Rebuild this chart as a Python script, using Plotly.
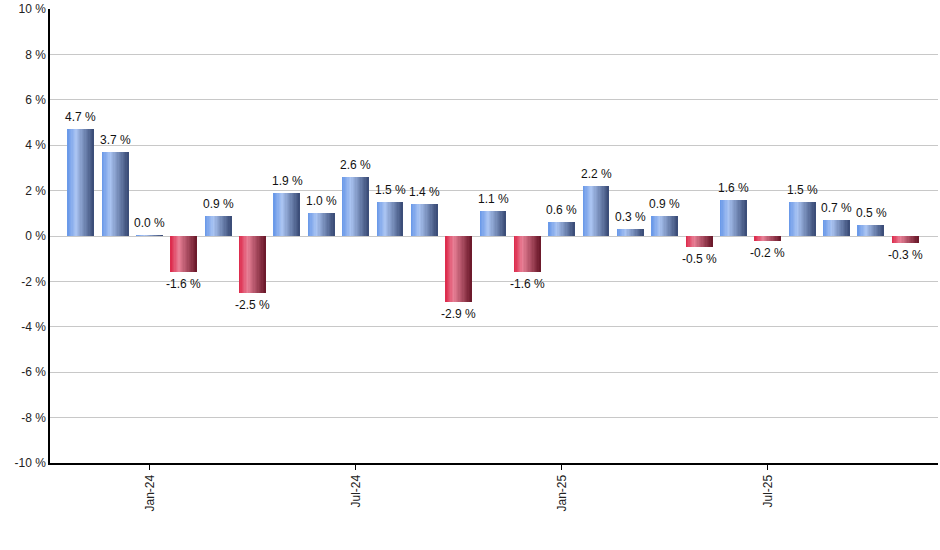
import plotly.graph_objects as go

# Monthly returns, Nov-23 .. Nov-25
months = ["Nov-23", "Dec-23", "Jan-24", "Feb-24", "Mar-24", "Apr-24", "May-24",
          "Jun-24", "Jul-24", "Aug-24", "Sep-24", "Oct-24", "Nov-24", "Dec-24",
          "Jan-25", "Feb-25", "Mar-25", "Apr-25", "May-25", "Jun-25", "Jul-25",
          "Aug-25", "Sep-25", "Oct-25", "Nov-25"]
returns = [4.7, 3.7, 0.03, -1.6, 0.9, -2.5, 1.9, 1.0, 2.6, 1.5, 1.4, -2.9, 1.1, -1.6,
           0.6, 2.2, 0.3, 0.9, -0.5, 1.6, -0.2, 1.5, 0.7, 0.5, -0.3]
tick_months = ["Jan-24", "Jul-24", "Jan-25", "Jul-25"]
y_ticks = [-10, -8, -6, -4, -2, 0, 2, 4, 6, 8, 10]
y_tick_text = ["%d %%" % v for v in y_ticks]

# gradient stops (position, rgb) for up / down bars
blue_stops = [(0.0, (102, 150, 232)), (0.32, (170, 196, 242)), (1.0, (56, 74, 116))]
red_stops = [(0.0, (220, 38, 72)), (0.32, (232, 128, 150)), (1.0, (104, 22, 40))]


def grad(stops, t):
    for (p0, c0), (p1, c1) in zip(stops, stops[1:]):
        if p0 <= t <= p1:
            f = (t - p0) / (p1 - p0)
            c = [round(a + (b - a) * f) for a, b in zip(c0, c1)]
            return "rgb(%d,%d,%d)" % tuple(c)
    return "rgb(%d,%d,%d)" % stops[-1][1]


fig = go.Figure()

# each bar is drawn as thin vertical strips to fake the horizontal gradient
bar_w = 0.76
n_strips = 20
sw = bar_w / n_strips
for k in range(n_strips):
    t = (k + 0.5) / n_strips
    cols = [grad(blue_stops, t) if v >= 0 else grad(red_stops, t) for v in returns]
    fig.add_trace(go.Bar(
        x=months, y=returns,
        width=sw * 1.08, offset=-bar_w / 2 + k * sw,
        marker=dict(color=cols, line=dict(width=0)),
        hoverinfo="skip", showlegend=False,
    ))

# value labels above / below each bar
for m, v in zip(months, returns):
    fig.add_annotation(
        x=m, y=v, text="%.1f %%" % v, showarrow=False,
        yanchor="bottom" if v >= 0 else "top",
        yshift=3 if v >= 0 else -3,
        font=dict(family="Liberation Sans, Arial", size=12, color="#111"),
    )

fig.update_layout(
    width=940, height=550,
    margin=dict(l=50, r=2, t=9, b=87),
    paper_bgcolor="white", plot_bgcolor="white",
    barmode="overlay", bargap=0,
    font=dict(family="Liberation Sans, Arial", size=12, color="#222"),
)
fig.update_xaxes(
    type="category", categoryorder="array", categoryarray=months,
    range=[-0.9, 24.95], automargin=False,
    tickvals=tick_months, ticktext=tick_months, tickangle=-90,
    ticks="outside", ticklen=5, tickcolor="black",
    showline=True, linecolor="black", linewidth=2,
    showgrid=False, zeroline=False,
)
fig.update_yaxes(
    range=[-10, 10], tickvals=y_ticks, ticktext=y_tick_text, automargin=False,
    showgrid=True, gridcolor="#c8c8c8", gridwidth=1,
    showline=True, linecolor="black", linewidth=1.5,
    zeroline=False, ticks="",
)

# drop the default page margin so the chart sits at the window corner
fig.write_html("out.html", config={"displayModeBar": False},
               post_script="document.body.style.margin='0';")
